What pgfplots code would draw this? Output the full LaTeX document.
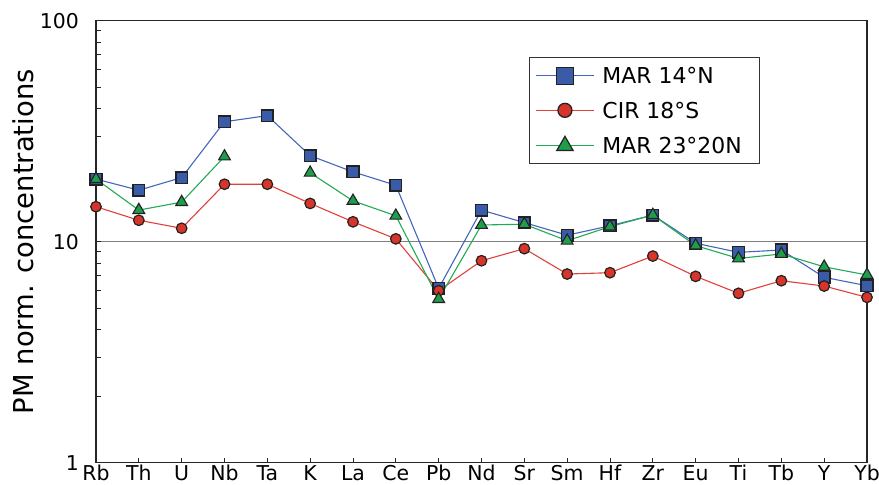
\documentclass[border=0pt]{standalone}
\usepackage{pgfplots}
\pgfplotsset{compat=1.18}
\usepackage{fontspec}
\setmainfont{DejaVu Sans}
\definecolor{cblue}{HTML}{3A5BA8}
\definecolor{lblue}{HTML}{4466BB}
\definecolor{cred}{HTML}{D8352A}
\definecolor{lred}{HTML}{E0403A}
\definecolor{cgreen}{HTML}{1E9E4A}
\definecolor{lgreen}{HTML}{22AA55}
\definecolor{edge}{HTML}{222222}

\pgfplotstableread{
x  mar14  cir18  mar23
0  19.2   14.4   19.2
1  17.1   12.5   13.9
2  19.5   11.5   15.1
3  34.9   18.2   24.3
4  37.2   18.2   nan
5  24.5   14.9   20.5
6  20.7   12.3   15.3
7  18.0   10.3   13.1
8  6.15   6.0    5.5
9  13.9   8.2    11.9
10 12.2   9.3    12.0
11 10.7   7.14   10.1
12 11.8   7.24   11.7
13 13.2   8.61   13.2
14 9.84   6.97   9.6
15 8.95   5.84   8.4
16 9.17   6.66   8.8
17 6.90   6.30   7.7
18 6.32   5.60   7.07
}\datatable

\begin{document}
\begin{tikzpicture}
\begin{axis}[
  scale only axis, width=771bp, height=442bp,
  ymode=log, ymin=1, ymax=100,
  xmin=0, xmax=18,
  xtick={0,...,18},
  xticklabels={Rb,Th,U,Nb,Ta,K,La,Ce,Pb,Nd,Sr,Sm,Hf,Zr,Eu,Ti,Tb,Y,Yb},
  ytick={1,10,100}, yticklabels={1,10,100},
  tick align=inside, xtick pos=bottom, ytick pos=left,
  major tick length=5bp, minor tick length=5.5bp,
  ymajorgrids, major grid style={gray, line width=1bp},
  axis line style={line width=1.3bp, black!85},
  every tick/.style={line width=1bp, black!85},
  xticklabel style={font=\fontsize{20.5}{24}\selectfont, anchor=base, inner sep=0pt, yshift=-17.5bp},
  yticklabel style={font=\fontsize{20.5}{24}\selectfont, anchor=east, inner sep=0pt, xshift=-17bp},
  /pgf/number format/assume math mode=true,
  ylabel={PM norm. concentrations},
  ylabel style={font=\fontsize{27.5}{32}\selectfont, at={(rel axis cs:-0.0817,0.5)}, anchor=base, inner sep=0pt},
  unbounded coords=jump,
  legend style={at={(rel axis cs:0.5616,0.918)}, anchor=north west, draw=black!80, line width=0.8bp,
    font=\fontsize{22}{26}\selectfont, inner xsep=6bp, inner ysep=10bp, row sep=18bp,
    nodes={inner sep=0pt, text height=16bp, text depth=0bp},
    /tikz/every odd column/.append style={column sep=8bp}},
  legend cell align=left,
  legend image code/.code={\draw[mark repeat=2,mark phase=2,#1] plot coordinates {(0bp,0bp) (29bp,0bp) (58bp,0bp)};},
]
\addplot[lblue, line width=1.1bp, mark=square*, mark size=5.8bp, mark options={fill=cblue, draw=edge, line width=1.5bp}, forget plot] table[x=x, y=mar14] {\datatable};
\addplot[lred, line width=1.1bp, mark=*, mark size=5.3bp, mark options={fill=cred, draw=edge, line width=1.2bp}, forget plot] table[x=x, y=cir18] {\datatable};
\addplot[lgreen, line width=1.1bp, mark=triangle*, mark size=6.8bp, mark options={fill=cgreen, draw=edge, line width=1.1bp}, forget plot] table[x=x, y=mar23] {\datatable};
\addlegendimage{lblue, line width=1.1bp, mark=square*, mark size=8.5bp, mark options={fill=cblue, draw=edge, line width=1.5bp}}
\addlegendentry{\makebox[151bp][l]{MAR 14°N}}
\addlegendimage{lred, line width=1.1bp, mark=*, mark size=7bp, mark options={fill=cred, draw=edge, line width=1.3bp}}
\addlegendentry{\makebox[151bp][l]{CIR 18°S}}
\addlegendimage{lgreen, line width=1.1bp, mark=triangle*, mark size=9.5bp, mark options={fill=cgreen, draw=edge, line width=1.2bp}}
\addlegendentry{\makebox[151bp][l]{MAR 23°20N}}
\coordinate (sw) at (rel axis cs:0,0);
\coordinate (ne) at (rel axis cs:1,1);
\end{axis}
\pgfresetboundingbox
\path ([shift={(-96bp,-22.3bp)}]sw) rectangle ([shift={(12bp,20.7bp)}]ne);
\end{tikzpicture}
\end{document}
